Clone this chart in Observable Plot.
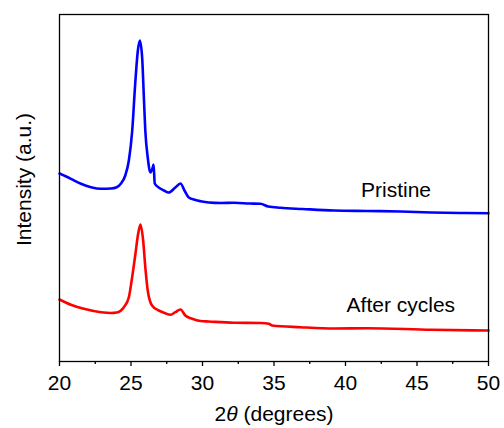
<!DOCTYPE html>
<html>
<head>
<meta charset="utf-8">
<script src="https://cdn.jsdelivr.net/npm/d3@7"></script>
<script src="https://cdn.jsdelivr.net/npm/@observablehq/plot@0.6"></script>
<style>
  html, body { margin: 0; padding: 0; background: #fff; }
  #chart { width: 504px; height: 428px; }
</style>
</head>
<body>
<div id="chart"></div>
<script>
// 2θ positions (degrees) and intensities (a.u.) for each pattern
const pristineTheta = [20.0, 20.8, 21.5, 22.2, 22.9, 23.6, 24.0, 24.3, 24.6, 24.85, 25.08, 25.3, 25.48, 25.62, 25.78, 25.9, 26.0, 26.17, 26.36, 26.5, 26.58, 26.66, 26.94, 27.3, 27.64, 28.1, 28.46, 28.74, 29.04, 29.5, 29.86, 30.44, 31.3, 32.2, 33.3, 34.05, 34.6, 35.45, 37.0, 39.2, 41.5, 43.85, 46.0, 48.0, 50.0];
const pristineIntensity = [188, 182.7, 177.7, 174.3, 172.7, 173, 174.3, 178, 186, 201, 230, 279, 311, 321, 304, 264, 231, 204, 189, 193, 197, 178, 174, 171, 169, 174, 178, 171, 164, 161.5, 160.3, 159, 158.5, 158.7, 158, 157.7, 155, 153.7, 152.5, 151, 150.5, 150, 149, 148.5, 148.3];

const cycledTheta = [20.0, 20.8, 21.7, 22.9, 23.6, 24.0, 24.5, 24.85, 25.08, 25.31, 25.5, 25.66, 25.85, 26.0, 26.17, 26.47, 26.94, 27.35, 27.76, 28.1, 28.46, 28.8, 29.28, 29.86, 30.44, 32.2, 34.1, 34.64, 34.87, 36.85, 39.2, 41.5, 46.0, 50.0];
const cycledIntensity = [62, 56.7, 52.7, 49.3, 48.5, 49, 54.3, 64.3, 84.3, 107.7, 127.7, 137, 121, 94.3, 71, 56, 51, 48.5, 46.7, 49.3, 52, 46, 42.7, 40.5, 40, 38.7, 38.5, 37.7, 36, 34.3, 33, 33.3, 31.7, 31];

const seriesNames = ["Pristine", "After cycles"];
const xTicks = [20, 25, 30, 35, 40, 45, 50];
const xMinorTicks = [22.5, 27.5, 32.5, 37.5, 42.5, 47.5];

const pristine = pristineTheta.map((t, i) => ({theta: t, intensity: pristineIntensity[i]}));
const cycled = cycledTheta.map((t, i) => ({theta: t, intensity: cycledIntensity[i]}));
const seriesLabels = [
  {theta: 43.53, intensity: 164.3, text: seriesNames[0]},
  {theta: 43.87, intensity: 50, text: seriesNames[1]}
];

const font = "Arial, 'Liberation Sans', sans-serif";

const chart = Plot.plot({
  width: 504,
  height: 428,
  marginLeft: 59,
  marginRight: 16,
  marginTop: 14,
  marginBottom: 67,
  style: {fontFamily: font, fontSize: "21px", color: "#000", background: "#fff"},
  x: {domain: [20, 50]},
  y: {domain: [0, 347], axis: null},
  marks: [
    Plot.line(pristine, {x: "theta", y: "intensity", stroke: "#0000ff", strokeWidth: 2.6, curve: "monotone-x"}),
    Plot.line(cycled, {x: "theta", y: "intensity", stroke: "#ff0000", strokeWidth: 2.6, curve: "monotone-x"}),
    Plot.frame({stroke: "#000", strokeWidth: 1.3}),
    Plot.axisX({ticks: xTicks, tickSize: 5, tickPadding: 9, fontSize: 21, label: null, stroke: "#000", strokeWidth: 1.3, tickFormat: d => String(d)}),
    Plot.axisX({ticks: xMinorTicks, tickSize: 3, text: null, label: null, stroke: "#000", strokeWidth: 1.3}),
    Plot.text(seriesLabels, {x: "theta", y: "intensity", text: "text", textAnchor: "middle", lineAnchor: "bottom", fontSize: 21, fill: "#000"}),
    Plot.text(["2θ (degrees)"], {frameAnchor: "bottom", dy: 59, lineAnchor: "bottom", fontSize: 21, fill: "#000", className: "xtitle"}),
    Plot.text(["Intensity (a.u.)"], {frameAnchor: "left", rotate: -90, dx: -29, dy: -8.5, lineAnchor: "bottom", textAnchor: "middle", fontSize: 21, fill: "#000"})
  ]
});

// italic theta in the x-axis title
chart.querySelectorAll("text").forEach(t => {
  if (t.textContent === "2θ (degrees)") {
    t.textContent = "";
    const ns = "http://www.w3.org/2000/svg";
    const a = document.createElementNS(ns, "tspan"); a.textContent = "2";
    const b = document.createElementNS(ns, "tspan"); b.textContent = "θ"; b.setAttribute("font-style", "italic");
    const c = document.createElementNS(ns, "tspan"); c.textContent = " (degrees)";
    t.append(a, b, c);
  }
});

document.getElementById("chart").appendChild(chart);
</script>
</body>
</html>
